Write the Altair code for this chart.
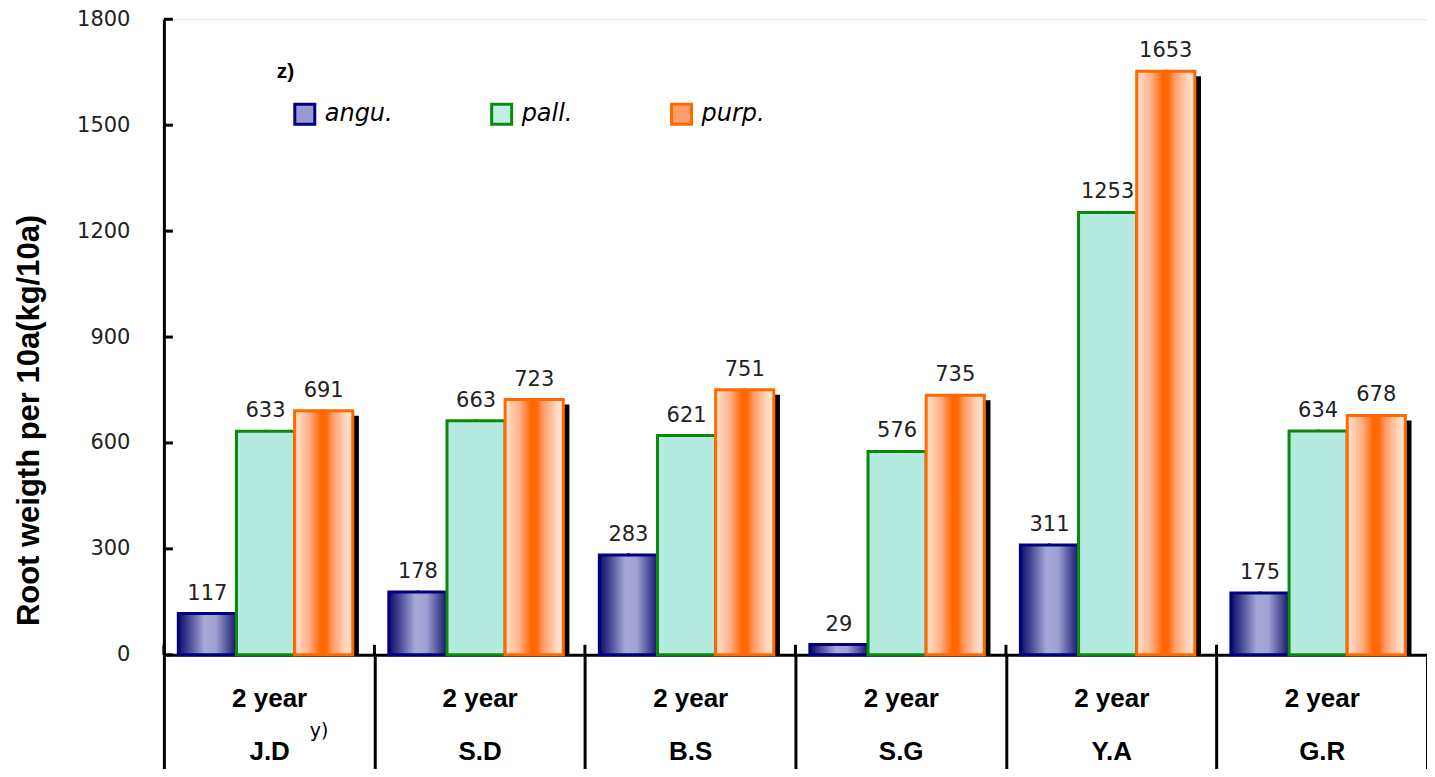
import altair as alt
import pandas as pd

sites = ["J.D", "S.D", "B.S", "S.G", "Y.A", "G.R"]
series = ["angu.", "pall.", "purp."]
angu = [117, 178, 283, 29, 311, 175]
pall = [633, 663, 621, 576, 1253, 634]
purp = [691, 723, 751, 735, 1653, 678]
y_ticks = [0, 300, 600, 900, 1200, 1500, 1800]

rows = []
for vals, s in zip([angu, pall, purp], series):
    for site, v in zip(sites, vals):
        rows.append({"site": site, "series": s, "value": v})
df = pd.DataFrame(rows)

W, H = 1264, 636

x_enc = alt.X(
    "site:N", sort=sites, title=None,
    scale=alt.Scale(paddingInner=0, paddingOuter=0),
    axis=alt.Axis(
        labelExpr="datum.label ? ['2 year', datum.label] : ''",
        labelAngle=0, labelFont="Liberation Sans", labelFontWeight="bold",
        labelFontSize=26, labelColor="#000", labelLineHeight=53,
        labelBaseline="top", labelPadding=-93,
        ticks=True, tickBand="extent", tickSize=124, tickWidth=3, tickColor="#000",
        domainColor="#000", domainWidth=3, grid=False,
    ),
)
xo_enc = alt.XOffset(
    "series:N", sort=series,
    scale=alt.Scale(type="band", domain=series, paddingInner=0, paddingOuter=0.31, align=0.4),
)
xo_shadow = alt.XOffset(
    "series:N", sort=series,
    scale=alt.Scale(type="band", domain=series, paddingInner=0, paddingOuter=0.31, align=0.57),
)
y_enc = alt.Y(
    "value:Q",
    scale=alt.Scale(domain=[0, 1800], nice=False),
    axis=alt.Axis(
        values=y_ticks, format="d", title="Root weigth per 10a(kg/10a)",
        titleFont="Liberation Sans", titleFontWeight="bold", titleFontSize=31,
        titleColor="#000", titleX=-134, titleY=401, titleAngle=270,
        titleAlign="center", titleBaseline="middle",
        labelFont="DejaVu Sans", labelFontSize=21, labelColor="#222",
        labelPadding=34, ticks=False, grid=False,
        domainColor="#000", domainWidth=3,
    ),
)

base = alt.Chart(df).encode(x=x_enc, xOffset=xo_enc, y=y_enc)

blue_grad = alt.LinearGradient(
    gradient="linear", x1=0, x2=1, y1=0, y2=0,
    stops=[
        alt.GradientStop(offset=0, color="#0A0A6E"),
        alt.GradientStop(offset=0.15, color="#3C3C8C"),
        alt.GradientStop(offset=0.45, color="#A8A8D8"),
        alt.GradientStop(offset=0.65, color="#A0A0D2"),
        alt.GradientStop(offset=1, color="#14146E"),
    ],
)
orange_grad = alt.LinearGradient(
    gradient="linear", x1=0, x2=1, y1=0, y2=0,
    stops=[
        alt.GradientStop(offset=0, color="#FFE2CE"),
        alt.GradientStop(offset=0.25, color="#FFB08A"),
        alt.GradientStop(offset=0.45, color="#FF6600"),
        alt.GradientStop(offset=0.55, color="#FF6A08"),
        alt.GradientStop(offset=0.65, color="#FF9A66"),
        alt.GradientStop(offset=0.9, color="#FFDCC6"),
        alt.GradientStop(offset=1, color="#FFE2CE"),
    ],
)

shadow = alt.Chart(df).transform_filter(alt.datum.series == "purp.").mark_bar(
    color="#000", yOffset=5
).encode(x=x_enc, xOffset=xo_shadow, y=y_enc, y2=alt.datum(0))

legend_layer = base.mark_square(size=1, opacity=1).encode(
    fill=alt.Fill(
        "series:N", sort=series,
        scale=alt.Scale(domain=series, range=["#9A9AD2", "#BDEFE4", "#FF9E6C"]),
        legend=alt.Legend(
            title=None, orient="none", legendX=129, legendY=83, direction="horizontal",
            labelFont="DejaVu Sans", labelFontStyle="italic", labelFontSize=24,
            labelColor="#000", symbolType="square", symbolSize=400,
            symbolOpacity=1, symbolStrokeWidth=3, columnPadding=93,
            labelOffset=8,
        ),
    ),
    stroke=alt.Stroke(
        "series:N", sort=series,
        scale=alt.Scale(domain=series, range=["#000080", "#0A8A0A", "#FF6A00"]),
        legend=alt.Legend(
            title=None, orient="none", legendX=129, legendY=83, direction="horizontal",
        ),
    ),
)

bar_a = base.transform_filter(alt.datum.series == "angu.").mark_bar(
    fill=blue_grad, stroke="#000080", strokeWidth=3
)
bar_p = base.transform_filter(alt.datum.series == "pall.").mark_bar(
    fill="#B4EADF", stroke="#0A8A0A", strokeWidth=3
)
bar_u = base.transform_filter(alt.datum.series == "purp.").mark_bar(
    fill=orange_grad, stroke="#FF6A00", strokeWidth=3
)
labels = base.mark_text(
    baseline="bottom", dy=-10, font="DejaVu Sans", fontSize=21, color="#222"
).encode(text="value:Q")

note = alt.Chart(pd.DataFrame({"site": ["J.D"], "t": ["y)"]})).mark_text(
    font="DejaVu Sans", fontSize=19, color="#000", dx=50, baseline="middle"
).encode(x=alt.X("site:N", sort=sites), y=alt.value(712), text="t:N")

zlabel = alt.Chart(pd.DataFrame({"t": ["z)"]})).mark_text(
    font="Liberation Sans", fontWeight="bold", fontSize=21, color="#000",
    align="left", baseline="middle",
).encode(x=alt.value(113), y=alt.value(53), text="t:N")

tick_df = pd.DataFrame({"value": y_ticks})
yticks_layer = alt.Chart(tick_df).mark_rule(color="#000", strokeWidth=3).encode(
    y=alt.Y("value:Q"), x=alt.value(0), x2=alt.value(9)
)

sep_df = pd.DataFrame({"site": sites})
sep_layer = alt.Chart(sep_df).mark_rule(color="#000", strokeWidth=3).encode(
    x=alt.X("site:N", sort=sites, bandPosition=0),
    y=alt.value(H - 10), y2=alt.value(H),
)

chart = alt.layer(
    shadow, legend_layer, bar_a, bar_p, bar_u, labels, note, zlabel,
    yticks_layer, sep_layer
).resolve_scale(xOffset="independent").properties(
    width=W, height=H,
    autosize=alt.AutoSizeParams(type="none"),
    padding={"left": 156, "top": 11, "right": 0, "bottom": 114},
).configure_view(stroke=None).configure(background="#ffffff")

chart.save("out.html", embed_options={"renderer": "svg", "actions": False})
